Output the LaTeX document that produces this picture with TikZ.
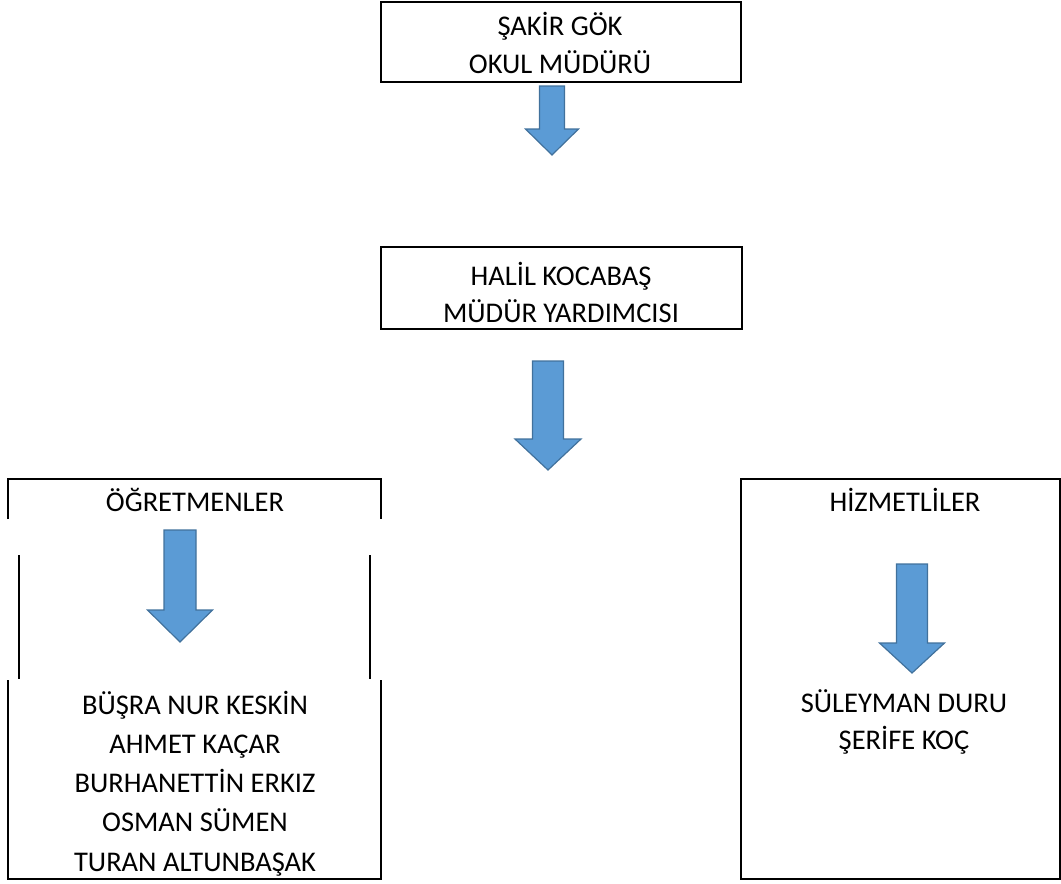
\documentclass[tikz,border=0pt]{standalone}
\usepackage{fontspec}
\setmainfont{Carlito}
\definecolor{arrowfill}{HTML}{5B9BD5}
\definecolor{arrowedge}{HTML}{41719C}
\tikzset{
  frame/.style={draw=black, line width=1.9pt},
  label/.style={inner sep=0pt, anchor=base, font=\fontsize{28.5}{38}\selectfont, text=black},
  blockarrow/.style={fill=arrowfill, draw=arrowedge, line width=1.2pt, line join=miter},
}
% #1 centre x, #2 top y, #3 head start y, #4 tip y, #5 half shaft, #6 half head
\newcommand{\myblockarrow}[6]{%
  \draw[blockarrow] (#1-#5,#2) -- (#1+#5,#2) -- (#1+#5,#3) -- (#1+#6,#3) -- (#1,#4)
    -- (#1-#6,#3) -- (#1-#5,#3) -- cycle;}
\begin{document}
\begin{tikzpicture}[x=1pt,y=-1pt]
\useasboundingbox (0,0) rectangle (1061,884);
% top box
\draw[frame] (381,2) rectangle (741,82);
\node[label] (mudur1) at (560,35) {ŞAKİR GÖK};
\node[label] (mudur2) at (560,73) {OKUL MÜDÜRÜ};
\myblockarrow{552}{86}{129}{155}{12.5}{26.5}
% second box
\draw[frame] (381,247) rectangle (742,329);
\node[label] (yard1) at (561,285) {HALİL KOCABAŞ};
\node[label] (yard2) at (561,322) {MÜDÜR YARDIMCISI};
\myblockarrow{548}{361}{439}{470}{15.5}{33}
% left column (broken frame)
\draw[frame] (8,519) -- (8,479) -- (381,479) -- (381,519);
\draw[frame] (19,555) -- (19,679);
\draw[frame] (370,555) -- (370,679);
\draw[frame] (8,680) -- (8,879) -- (381,879) -- (381,680);
\node[label] (ogr) at (195,511.5) {ÖĞRETMENLER};
\myblockarrow{180}{530}{610}{642}{16}{32.5}
\node[label] (n1) at (195,714) {BÜŞRA NUR KESKİN};
\node[label] (n2) at (195,753.25) {AHMET KAÇAR};
\node[label] (n3) at (195,792.5) {BURHANETTİN ERKIZ};
\node[label] (n4) at (195,831.75) {OSMAN SÜMEN};
\node[label] (n5) at (195,871) {TURAN ALTUNBAŞAK};
% right column
\draw[frame] (741,479) rectangle (1060,879);
\node[label] (hiz) at (905,511.5) {HİZMETLİLER};
\myblockarrow{912}{564}{643}{673}{15.5}{32.5}
\node[label] (h1) at (904,712.5) {SÜLEYMAN DURU};
\node[label] (h2) at (904,749.5) {ŞERİFE KOÇ};
\end{tikzpicture}
\end{document}
